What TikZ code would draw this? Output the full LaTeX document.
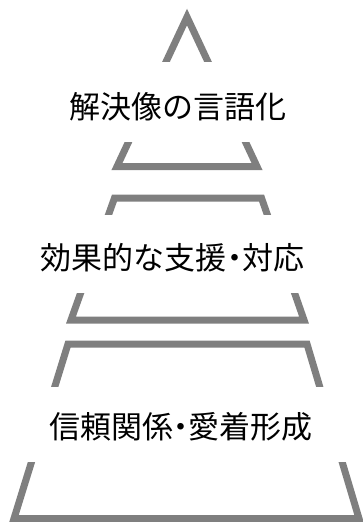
\documentclass[tikz,border=0pt]{standalone}
\usepackage{fontspec}
\newfontfamily\jpfont{Noto Sans CJK JP}
\definecolor{layergray}{HTML}{7F7F7F}
\tikzset{
  layer/.style={draw=layergray, line width=7pt, line join=miter, fill=white},
  cover/.style={fill=white, draw=none},
  lbl/.style={font=\jpfont\fontsize{31}{31}\selectfont, text=black, inner sep=0pt, anchor=base}
}
\newcommand{\jpdot}{\kern-0.25em・\kern-0.25em}
\begin{document}
\begin{tikzpicture}[x=1pt,y=-1pt]
\useasboundingbox (0,0) rectangle (363,522);
% layers
\draw[layer] (117,166.5) -- (187,17) -- (257,166.5) -- cycle;
\draw[layer] (114.5,198) -- (261.5,198) -- (304,320) -- (71,320) -- cycle;
\draw[layer] (68,344) -- (307,344) -- (359,518.5) -- (14,518.5) -- cycle;
% text boxes covering the outlines
\fill[cover] (0,62) rectangle (363,142);
\fill[cover] (0,215) rectangle (363,293);
\fill[cover] (0,387) rectangle (363,462);
% labels
\node[lbl] (t1) at (177.5,118) {解決像の言語化};
\node[lbl] (t2) at (172.5,269) {効果的な支援\jpdot 対応};
\node[lbl] (t3) at (181,438) {信頼関係\jpdot 愛着形成};
\end{tikzpicture}
\end{document}
